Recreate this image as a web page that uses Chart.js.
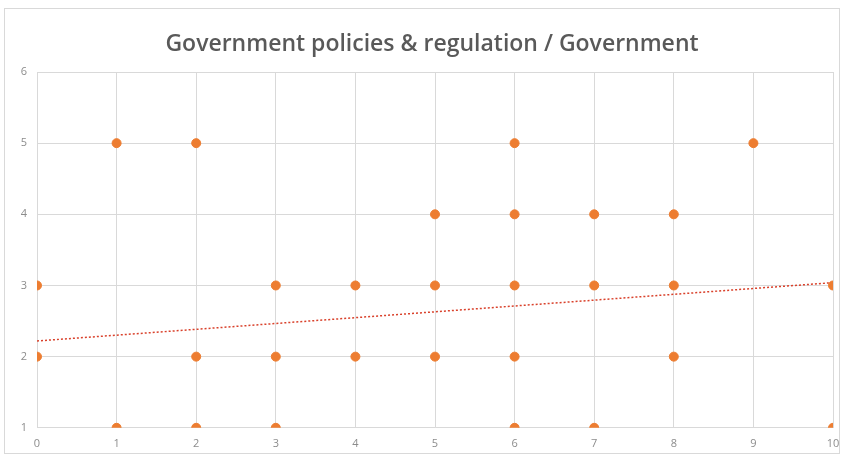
<!DOCTYPE html>
<html>
<head>
<meta charset="utf-8">
<script src="https://cdn.jsdelivr.net/npm/chart.js@4.4.0/dist/chart.umd.min.js"></script>
<style>
  html, body { margin:0; padding:0; background:#fff; }
  #wrap { position:absolute; left:4px; top:8px; width:836px; height:446px; border:1px solid #d9d9d9; box-sizing:border-box; }
  #c { position:absolute; left:0; top:0; }
  #title { position:absolute; left:32px; width:800px; top:26px; text-align:center;
           font-family:'Open Sans','Noto Sans',sans-serif; font-size:23px; font-weight:600; color:#595959; line-height:32px; }
</style>
</head>
<body>
<div id="wrap"></div>
<canvas id="c" width="845" height="459"></canvas>
<div id="title">Government policies &amp; regulation / Government</div>
<script>
// ============ scatter data ============
const xVals = [0,0, 1,1, 2,2,2, 3,3,3, 4,4, 5,5,5, 6,6,6,6,6, 7,7,7, 8,8,8, 9, 10,10];
const yVals = [3,2, 5,1, 5,2,1, 3,2,1, 3,2, 4,3,2, 5,4,3,2,1, 4,3,1, 4,3,2, 5, 3,1];
// linear trendline end points
const trendX = [0, 10];
const trendY = [2.22, 3.04];
const xTicks = [0,1,2,3,4,5,6,7,8,9,10];
const yTicks = [1,2,3,4,5,6];

const FONT = "'Open Sans', 'Noto Sans', sans-serif";

const ctx = document.getElementById('c').getContext('2d');
new Chart(ctx, {
  type: 'scatter',
  data: {
    datasets: [
      {
        data: xVals.map((x, i) => ({x: x, y: yVals[i]})),
        backgroundColor: '#ED7D31', borderColor: '#ED7D31',
        pointRadius: 4.5, pointHoverRadius: 4.5, order: 1
      },
      {
        type: 'line',
        data: trendX.map((x, i) => ({x: x, y: trendY[i]})),
        borderColor: '#D9412B', borderWidth: 1.5, borderDash: [2, 2],
        pointRadius: 0, fill: false, order: 2
      }
    ]
  },
  options: {
    responsive: false, animation: false,
    layout: {padding: {left: 8, right: 12, top: 72, bottom: 0}},
    plugins: {
      legend: {display: false}, tooltip: {enabled: false}, title: {display: false}
    },
    scales: {
      x: {
        type: 'linear', min: 0, max: 10,
        afterBuildTicks: s => { s.ticks = xTicks.map(v => ({value: v})); },
        afterFit: s => { s.paddingRight = 0; s.paddingLeft = 0; },
        grid: {color: '#d9d9d9', drawTicks: false},
        border: {color: '#d9d9d9'},
        ticks: {color: '#8c8c8c', font: {family: FONT, size: 11}, padding: 9}
      },
      y: {
        min: 1, max: 6,
        afterBuildTicks: s => { s.ticks = yTicks.map(v => ({value: v})); },
        afterFit: s => { s.width = 29; },
        grid: {color: '#d9d9d9', drawTicks: false},
        border: {color: '#d9d9d9'},
        ticks: {color: '#8c8c8c', font: {family: FONT, size: 11}, padding: 10}
      }
    }
  }
});
</script>
</body>
</html>
